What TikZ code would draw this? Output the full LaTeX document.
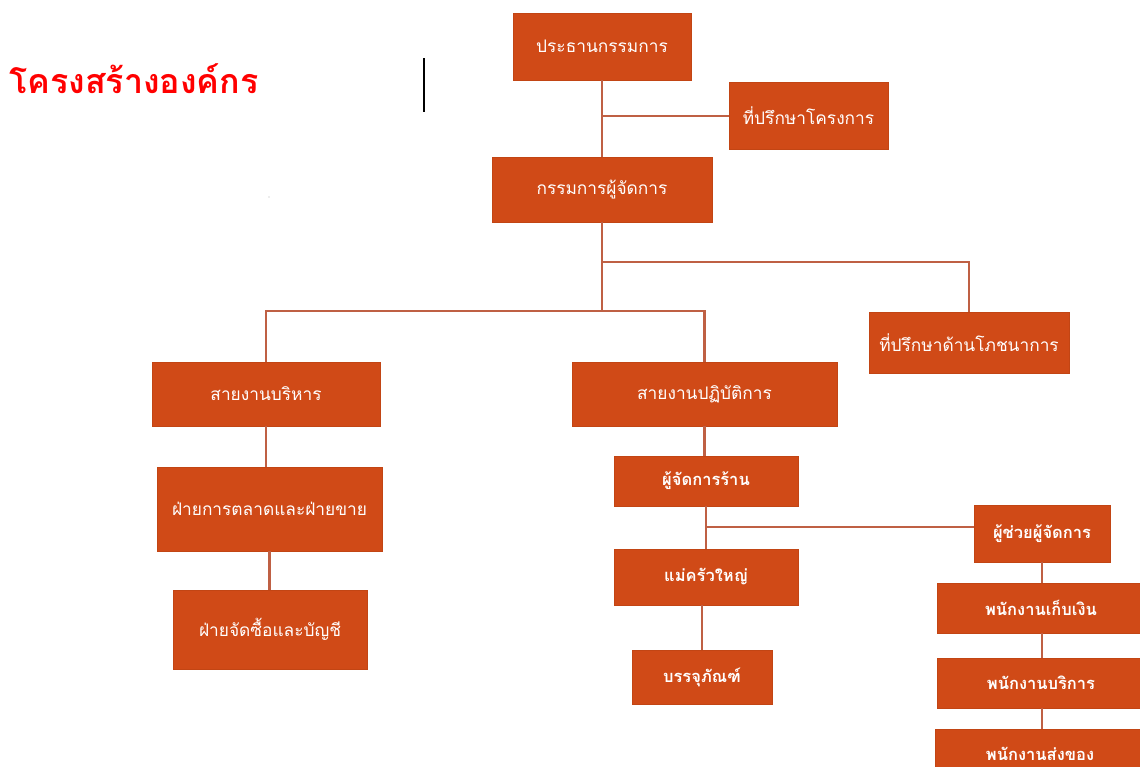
\documentclass[tikz,border=0pt]{standalone}
\usepackage{fontspec}
\newfontfamily\thai[Script=Thai]{Loma}
\definecolor{boxfill}{HTML}{D04A17}
\definecolor{boxline}{HTML}{C24514}
\definecolor{conncol}{HTML}{BF6044}
\definecolor{titlered}{HTML}{FF0000}
\tikzset{
  box/.style={draw=boxline, line width=0.6pt, fill=boxfill, text=white, inner sep=0pt, font=\thai\fontsize{17.3}{19}\selectfont},
  boldbox/.style={box, font=\thai\bfseries\fontsize{16.5}{19}\selectfont},
  conn/.style={draw=conncol, line width=2.2pt},
}
\begin{document}
\begin{tikzpicture}[x=1pt,y=-1pt]
\useasboundingbox (0,0) rectangle (1140,766);
\clip (0,0) rectangle (1140,766);
\fill[white] (0,0) rectangle (1140,766);

\node[anchor=west, text=titlered, font=\thai\bfseries\fontsize{34}{38}\selectfont, inner sep=0pt] (title) at (9,79) {โครงสร้างองค์กร};
\draw[black, line width=1.6pt] (424,58) coordinate (cur1) -- (424,112) coordinate (cur2);
\fill[gray!60] (269,197) circle (0.7);

\node[box, minimum width=178pt, minimum height=67pt] (chair) at (602,46.5) {ประธานกรรมการ};
\node[box, minimum width=159pt, minimum height=67pt] (padv) at (808.5,115.5) {ที่ปรึกษาโครงการ};
\node[box, minimum width=220pt, minimum height=65pt] (md) at (602,189.5) {กรรมการผู้จัดการ};
\node[box, minimum width=200pt, minimum height=61pt] (nut) at (969,342.5) {ที่ปรึกษาด้านโภชนาการ};
\node[box, minimum width=228pt, minimum height=64pt] (admin) at (266,394) {สายงานบริหาร};
\node[box, minimum width=225pt, minimum height=84pt] (mkt) at (269.5,509) {ฝ่ายการตลาดและฝ่ายขาย};
\node[box, minimum width=194pt, minimum height=79pt] (buy) at (270,629.5) {ฝ่ายจัดซื้อและบัญชี};
\node[box, minimum width=265pt, minimum height=64pt] (ops) at (704.5,394) {สายงานปฏิบัติการ};
\node[boldbox, minimum width=184pt, minimum height=50pt] (mgr) at (706,481) {ผู้จัดการร้าน};
\node[boldbox, minimum width=184pt, minimum height=56pt] (chef) at (706,577) {แม่ครัวใหญ่};
\node[boldbox, minimum width=140pt, minimum height=54pt] (pkg) at (702,677) {บรรจุภัณฑ์};
\node[boldbox, minimum width=136pt, minimum height=57pt] (asst) at (1042,533.5) {ผู้ช่วยผู้จัดการ};
\node[boldbox, minimum width=208pt, minimum height=50pt] (cash) at (1041,608) {พนักงานเก็บเงิน};
\node[boldbox, minimum width=208pt, minimum height=50pt] (serv) at (1041,683) {พนักงานบริการ};
\node[boldbox, minimum width=210pt, minimum height=50pt] (deliv) at (1040,754) {พนักงานส่งของ};

\coordinate (y116) at (0,116);
\coordinate (y262) at (0,262);
\coordinate (y311) at (0,311);
\coordinate (y527) at (0,527);

\draw[conn] (chair.south) -- (md.north);
\draw[conn] (chair.south |- y116) -- (padv.west |- y116);
\draw[conn] (md.south) -- (md.south |- y311);
\draw[conn] (md.south |- y262) -| (nut.north);
\draw[conn] (admin.north) |- (ops.north |- y311) -- (ops.north);
\draw[conn] (admin.south) -- (mkt.north -| admin.south);
\draw[conn] (mkt.south) -- (buy.north -| mkt.south);
\draw[conn] (ops.south) -- (mgr.north -| ops.south);
\draw[conn] (mgr.south) -- (chef.north);
\draw[conn] (mgr.south |- y527) -- (asst.west |- y527);
\draw[conn] (chef.south -| pkg.north) -- (pkg.north);
\draw[conn] (asst.south) -- (cash.north -| asst.south);
\draw[conn] (cash.south -| asst.south) -- (serv.north -| asst.south);
\draw[conn] (serv.south -| asst.south) -- (deliv.north -| asst.south);
\end{tikzpicture}
\end{document}
